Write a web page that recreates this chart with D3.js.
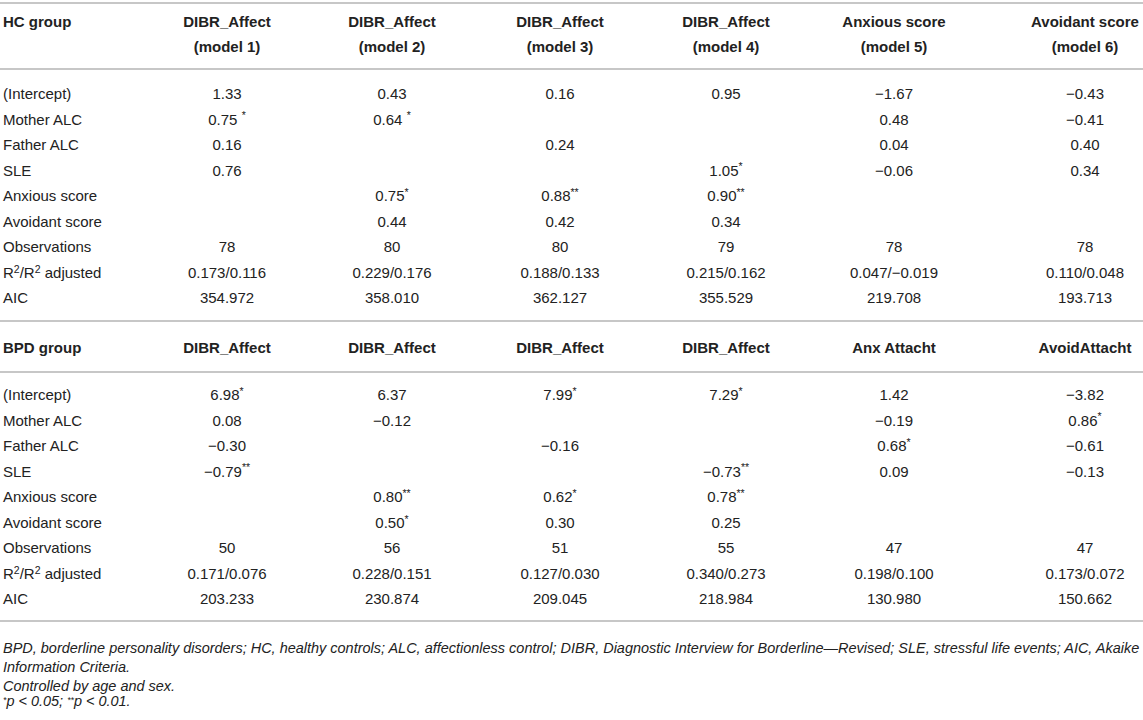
<!DOCTYPE html>
<html>
<head>
<meta charset="utf-8">
<script src="https://cdn.jsdelivr.net/npm/d3@7"></script>
<style>
  html, body { margin: 0; padding: 0; background: #fff; }
  svg text { font-family: "Liberation Sans", Arial, Helvetica, sans-serif; fill: #222; }
</style>
</head>
<body>
<svg id="table" width="1143" height="720"></svg>
<script>
// Row labels (same for both groups)
const predictors = ["(Intercept)", "Mother ALC", "Father ALC", "SLE", "Anxious score",
    "Avoidant score", "Observations", "R²/R² adjusted", "AIC"];

// HC group
const hcTitle = "HC group";
const hcHeaders = [
    ["DIBR_Affect", "(model 1)"],
    ["DIBR_Affect", "(model 2)"],
    ["DIBR_Affect", "(model 3)"],
    ["DIBR_Affect", "(model 4)"],
    ["Anxious score", "(model 5)"],
    ["Avoidant score", "(model 6)"]
];
// one array per model, in predictor order
const hcModel1 = ["1.33", "0.75 *", "0.16", "0.76", "", "", "78", "0.173/0.116", "354.972"];
const hcModel2 = ["0.43", "0.64 *", "", "", "0.75*", "0.44", "80", "0.229/0.176", "358.010"];
const hcModel3 = ["0.16", "", "0.24", "", "0.88**", "0.42", "80", "0.188/0.133", "362.127"];
const hcModel4 = ["0.95", "", "", "1.05*", "0.90**", "0.34", "79", "0.215/0.162", "355.529"];
const hcModel5 = ["−1.67", "0.48", "0.04", "−0.06", "", "", "78", "0.047/−0.019", "219.708"];
const hcModel6 = ["−0.43", "−0.41", "0.40", "0.34", "", "", "78", "0.110/0.048", "193.713"];

// BPD group
const bpdTitle = "BPD group";
const bpdHeaders = [
    ["DIBR_Affect"], ["DIBR_Affect"], ["DIBR_Affect"], ["DIBR_Affect"],
    ["Anx Attacht"], ["AvoidAttacht"]
];
const bpdModel1 = ["6.98*", "0.08", "−0.30", "−0.79**", "", "", "50", "0.171/0.076", "203.233"];
const bpdModel2 = ["6.37", "−0.12", "", "", "0.80**", "0.50*", "56", "0.228/0.151", "230.874"];
const bpdModel3 = ["7.99*", "", "−0.16", "", "0.62*", "0.30", "51", "0.127/0.030", "209.045"];
const bpdModel4 = ["7.29*", "", "", "−0.73**", "0.78**", "0.25", "55", "0.340/0.273", "218.984"];
const bpdModel5 = ["1.42", "−0.19", "0.68*", "0.09", "", "", "47", "0.198/0.100", "130.980"];
const bpdModel6 = ["−3.82", "0.86*", "−0.61", "−0.13", "", "", "47", "0.173/0.072", "150.662"];

const footnotes = [
    "BPD, borderline personality disorders; HC, healthy controls; ALC, affectionless control; DIBR, Diagnostic Interview for Borderline—Revised; SLE, stressful life events; AIC, Akaike",
    "Information Criteria.",
    "Controlled by age and sex.",
    "*p < 0.05; **p < 0.01."
];

const svg = d3.select('#table');
const W = 1143;
const FONT = 15;
const ruleColor = '#b4b4b4';

// column centres for the six model columns
const modelKeys = d3.range(6);
const xCol = d3.scaleOrdinal()
    .domain(modelKeys)
    .range([227, 392, 560, 726, 894, 1085]);

// writes a string into a text node, putting runs of * and ² up as superscripts
function richText(textSel, str, size, supScale = 0.7, rise = 0.35) {
    const parts = str.split(/(\*+|²)/).filter(s => s.length);
    let raised = false;
    parts.forEach(p => {
        const sup = /^(\*+|²)$/.test(p);
        const t = textSel.append('tspan').text(p === '²' ? '2' : p);
        if (sup) {
            t.classed('sup', true)
                .attr('font-size', size * supScale)
                .attr('dy', raised ? null : -size * rise);
            raised = true;
        } else {
            if (raised) t.attr('dy', size * rise);
            raised = false;
        }
    });
}

function drawRule(y) {
    svg.append('line')
        .attr('x1', 0).attr('x2', W)
        .attr('y1', y).attr('y2', y)
        .attr('stroke', ruleColor)
        .attr('stroke-width', 1.6);
}

function drawGroup(opts) {
    const g = svg.append('g');
    const columns = opts.models;

    // header
    opts.headerLines.forEach((yh, li) => {
        if (li === 0) {
            g.append('text')
                .attr('x', 3).attr('y', yh).attr('dy', '0.35em')
                .attr('font-size', FONT).attr('font-weight', 'bold')
                .text(opts.title);
        }
        g.selectAll(null)
            .data(opts.headers.filter(h => h[li] !== undefined))
            .enter().append('text')
            .attr('x', (d, i) => xCol(i))
            .attr('y', yh).attr('dy', '0.35em')
            .attr('text-anchor', 'middle')
            .attr('font-size', FONT).attr('font-weight', 'bold')
            .text(d => d[li]);
    });

    // body rows
    const y = d3.scaleBand()
        .domain(predictors)
        .range(opts.bodyRange);

    g.selectAll('.label')
        .data(predictors)
        .enter().append('text')
        .classed('label', true)
        .attr('x', 3)
        .attr('y', d => y(d) + y.bandwidth() / 2)
        .attr('dy', '0.35em')
        .attr('font-size', FONT)
        .each(function(d) { richText(d3.select(this), d, FONT); });

    columns.forEach((vals, ci) => {
        g.selectAll(null)
            .data(vals.map((v, ri) => ({ v, p: predictors[ri] })).filter(d => d.v !== ''))
            .enter().append('text')
            .attr('x', xCol(ci))
            .attr('y', d => y(d.p) + y.bandwidth() / 2)
            .attr('dy', '0.35em')
            .attr('text-anchor', 'middle')
            .attr('font-size', FONT)
            .each(function(d) { richText(d3.select(this), d.v, FONT); });
    });
}

// rules
drawRule(3);
drawRule(69);
drawRule(321);
drawRule(372);
drawRule(621);

drawGroup({
    title: hcTitle,
    headers: hcHeaders,
    headerLines: [22, 47],
    bodyRange: [81, 311],
    models: [hcModel1, hcModel2, hcModel3, hcModel4, hcModel5, hcModel6]
});

drawGroup({
    title: bpdTitle,
    headers: bpdHeaders,
    headerLines: [348],
    bodyRange: [382, 612],
    models: [bpdModel1, bpdModel2, bpdModel3, bpdModel4, bpdModel5, bpdModel6]
});

// footnotes, sized so the first line spans the table width
const foot = svg.append('g').attr('font-style', 'italic');
const footY = [648, 667, 686, 706];
const footNodes = foot.selectAll('text')
    .data(footnotes)
    .enter().append('text')
    .attr('x', 3)
    .attr('y', (d, i) => footY[i])
    .attr('dy', '0.35em')
    .attr('font-size', 13)
    .each(function(d) { richText(d3.select(this), d, 13, 0.6, 0.25); });

const firstLen = footNodes.node().getComputedTextLength();
const footSize = 13 * 1137 / firstLen;
footNodes.attr('font-size', footSize);
footNodes.selectAll('tspan.sup').attr('font-size', footSize * 0.6);
</script>
</body>
</html>
